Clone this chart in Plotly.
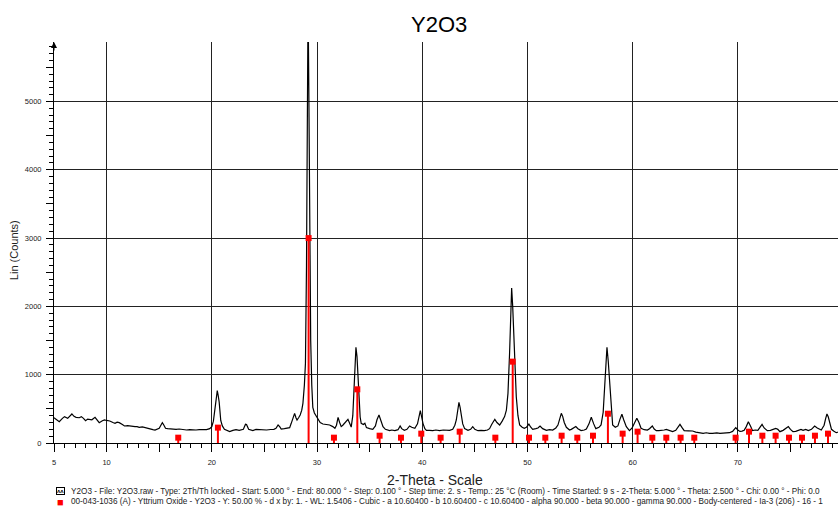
import plotly.graph_objects as go

# ---- measured pattern (2-Theta in degrees, Lin counts) ----
two_theta = [5.0, 5.3, 5.5, 5.8, 6.0, 6.3, 6.5, 6.7, 6.9, 7.1, 7.4, 7.6, 7.8, 8.0, 8.2, 8.4, 8.6, 8.9, 9.1, 9.3,
             9.6, 9.8, 10.0, 10.3, 10.6, 10.8, 11.0, 11.2, 11.5, 11.7, 12.0, 12.2, 12.5, 12.7, 12.9, 13.1, 13.4, 13.6,
             13.9, 14.1, 14.4, 14.6, 14.8, 15.0, 15.2, 15.3, 15.45, 15.6, 15.8, 16.0, 16.3, 16.6, 16.9, 17.2, 17.6,
             17.9, 18.2, 18.5, 18.8, 19.2, 19.5, 19.8, 20.0, 20.15, 20.3, 20.45, 20.52, 20.6, 20.7, 20.85, 21.0, 21.2,
             21.45, 21.7, 22.0, 22.3, 22.6, 22.8, 23.0, 23.2, 23.3, 23.5, 23.7, 23.9, 24.2, 24.5, 24.9, 25.2, 25.6,
             25.9, 26.1, 26.3, 26.45, 26.6, 26.9, 27.2, 27.4, 27.55, 27.75, 27.87, 28.0, 28.1, 28.25, 28.4, 28.55,
             28.66, 28.8, 28.9, 29.0, 29.08, 29.15, 29.22, 29.3, 29.4, 29.5, 29.6, 29.75, 29.87, 30.0, 30.1, 30.3,
             30.56, 30.9, 31.2, 31.5, 31.7, 31.85, 32.0, 32.15, 32.3, 32.45, 32.6, 32.8, 32.94, 33.1, 33.25, 33.4,
             33.5, 33.6, 33.7, 33.8, 33.9, 34.0, 34.1, 34.2, 34.4, 34.55, 34.7, 35.0, 35.3, 35.55, 35.7, 35.89, 36.05,
             36.27, 36.5, 36.9, 37.1, 37.4, 37.7, 37.9, 38.05, 38.3, 38.55, 38.8, 39.0, 39.3, 39.55, 39.7, 39.82,
             39.95, 40.07, 40.25, 40.4, 40.7, 41.0, 41.3, 41.65, 42.0, 42.3, 42.6, 42.9, 43.1, 43.24, 43.4, 43.49,
             43.6, 43.7, 43.85, 44.03, 44.35, 44.6, 44.8, 45.0, 45.3, 45.6, 45.9, 46.2, 46.4, 46.6, 46.9, 47.1, 47.36,
             47.6, 47.83, 48.0, 48.15, 48.3, 48.4, 48.5, 48.6, 48.72, 48.85, 48.94, 49.1, 49.26, 49.5, 49.7, 49.9,
             50.14, 50.3, 50.5, 50.8, 51.0, 51.2, 51.45, 51.8, 52.1, 52.4, 52.7, 52.9, 53.05, 53.22, 53.35, 53.5,
             53.7, 54.0, 54.17, 54.3, 54.6, 54.8, 55.1, 55.4, 55.6, 55.85, 56.07, 56.3, 56.5, 56.8, 57.0, 57.2, 57.34,
             57.45, 57.56, 57.68, 57.81, 57.95, 58.1, 58.35, 58.6, 58.8, 58.98, 59.15, 59.4, 59.7, 59.95, 60.2, 60.4,
             60.6, 60.8, 61.1, 61.4, 61.6, 61.87, 62.05, 62.25, 62.5, 62.7, 63.0, 63.2, 63.5, 63.8, 64.1, 64.3, 64.5,
             64.7, 64.9, 65.3, 65.7, 66.0, 66.4, 66.7, 67.0, 67.3, 67.6, 68.0, 68.3, 68.6, 68.9, 69.2, 69.5, 69.8,
             70.0, 70.2, 70.4, 70.6, 70.8, 71.0, 71.2, 71.4, 71.65, 71.9, 72.1, 72.3, 72.5, 72.8, 73.1, 73.35, 73.6,
             73.8, 74.0, 74.3, 74.55, 74.8, 75.0, 75.24, 75.5, 75.8, 76.0, 76.2, 76.45, 76.7, 77.0, 77.3, 77.55,
             77.93, 78.2, 78.35, 78.47, 78.6, 78.75, 78.9, 79.1, 79.35, 79.5]
counts = [370, 330, 312, 360, 386, 361, 390, 425, 390, 376, 370, 386, 360, 327, 350, 347, 340, 376, 340, 298,
          325, 337, 330, 322, 300, 288, 305, 298, 270, 249, 255, 249, 245, 239, 240, 229, 235, 225,
          210, 200, 195, 190, 205, 215, 270, 298, 260, 215, 210, 205, 200, 200, 205, 195, 190,
          195, 188, 190, 195, 200, 195, 210, 240, 320, 532, 740, 766, 700, 600, 330, 250, 200,
          180, 168, 185, 195, 185, 190, 200, 275, 270, 200, 190, 182, 200, 195, 198, 190, 198,
          200, 215, 264, 240, 205, 210, 215, 225, 288, 400, 434, 370, 337, 370, 410, 480,
          581, 850, 1166, 2600, 5000, 6500, 5200, 3200, 1500, 850, 520, 440, 410, 370, 347, 300,
          278, 270, 264, 240, 215, 260, 376, 300, 240, 260, 285, 330, 347, 290, 232, 400,
          678, 1100, 1400, 1264, 900, 532, 380, 288, 270, 290, 225, 210, 200, 250, 340, 410, 330,
          239, 200, 181, 190, 181, 195, 249, 210, 186, 200, 249, 230, 215, 280, 420, 473,
          380, 288, 210, 186, 185, 181, 190, 180, 190, 182, 185, 200, 260, 337, 520, 595,
          520, 434, 280, 210, 186, 200, 240, 200, 180, 185, 181, 190, 210, 270, 347, 300, 264,
          320, 386, 480, 727, 1300, 1900, 2270, 2000, 1606, 1000, 678, 400, 264, 230, 215, 230,
          278, 235, 200, 210, 220, 249, 210, 185, 195, 190, 220, 262, 350, 434, 390, 300,
          230, 190, 200, 210, 240, 210, 182, 190, 205, 280, 376, 280, 210, 230, 264, 450, 825,
          1250, 1401, 1200, 874, 500, 264, 230, 250, 350, 420, 340, 240, 181, 220, 300, 361,
          300, 215, 195, 190, 210, 249, 205, 181, 180, 181, 190, 200, 185, 166, 185, 230, 273,
          225, 181, 178, 176, 160, 150, 142, 150, 140, 142, 148, 140, 145, 150, 151, 170, 225,
          190, 170, 175, 186, 240, 312, 250, 181, 190, 186, 230, 273, 220, 181, 185, 200, 215,
          200, 166, 185, 210, 240, 200, 166, 170, 190, 200, 185, 200, 181, 200, 249, 220,
          190, 260, 360, 425, 380, 270, 200, 175, 151, 160]

# ---- reference pattern 00-043-1036 (Y: 50 %) ----
ref_theta = [16.81, 20.58, 29.2, 31.61, 33.83, 35.95, 37.98, 39.91, 41.75, 43.56, 46.95, 48.6, 50.15, 51.7,
             53.25, 54.74, 56.23, 57.65, 59.05, 60.47, 61.87, 63.2, 64.56, 65.86, 69.79, 71.06, 72.33, 73.59,
             74.86, 76.1, 77.33, 78.57]
ref_counts = [78, 225, 3000, 78, 786, 107, 78, 137, 78, 166, 78, 1191, 78, 78,
              107, 78, 107, 429, 137, 166, 78, 78, 78, 78, 78, 166, 107, 107,
              78, 78, 107, 137]

x_tick_vals = [5, 10, 15, 20, 25, 30, 35, 40, 45, 50, 55, 60, 65, 70, 75]
x_tick_text = ["5", "10", "", "20", "", "30", "", "40", "", "50", "", "60", "", "70", ""]
x_grid_vals = [10, 20, 30, 40, 50, 60, 70]
y_tick_vals = [0, 500, 1000, 1500, 2000, 2500, 3000, 3500, 4000, 4500, 5000, 5500]
y_tick_text = ["0", "", "1000", "", "2000", "", "3000", "", "4000", "", "5000", ""]
y_grid_vals = [1000, 2000, 3000, 4000, 5000]

X_RANGE = [5, 79.52]
Y_RANGE = [0, 5871]

title_text = "Y2O3"
y_title = "Lin (Counts)"
x_title = "2-Theta - Scale"
info_line1 = ("Y2O3 - File: Y2O3.raw - Type: 2Th/Th locked - Start: 5.000 ° - End: 80.000 ° - Step: 0.100 ° - "
              "Step time: 2. s - Temp.: 25 °C (Room) - Time Started: 9 s - 2-Theta: 5.000 ° - Theta: 2.500 ° - "
              "Chi: 0.00 ° - Phi: 0.0")
info_line2 = ("00-043-1036 (A) - Yttrium Oxide - Y2O3 - Y: 50.00 % - d x by: 1. - WL: 1.5406 - Cubic - "
              "a 10.60400 - b 10.60400 - c 10.60400 - alpha 90.000 - beta 90.000 - gamma 90.000 - "
              "Body-centered - Ia-3 (206) - 16 - 1")

FONT = "Arial, Liberation Sans, sans-serif"

# stick segments built from the reference arrays
stick_x, stick_y = [], []
for t, c in zip(ref_theta, ref_counts):
    stick_x += [t, t, None]
    stick_y += [0, c, None]

fig = go.Figure()
fig.add_trace(go.Scatter(x=two_theta, y=counts, mode="lines",
                         line=dict(color="black", width=1.2), hoverinfo="skip", showlegend=False))
fig.add_trace(go.Scatter(x=stick_x, y=stick_y, mode="lines", xaxis="x2", yaxis="y2",
                         line=dict(color="#ff0000", width=2), hoverinfo="skip", showlegend=False))
fig.add_trace(go.Scatter(x=ref_theta, y=ref_counts, mode="markers", xaxis="x2", yaxis="y2",
                         marker=dict(symbol="square", size=6, color="#ff0000"),
                         hoverinfo="skip", showlegend=False))

fig.update_layout(
    width=838, height=508,
    margin=dict(l=54, r=0, t=42, b=65),
    paper_bgcolor="white", plot_bgcolor="white",
    font=dict(family=FONT, color="#222"),
    title=dict(text=title_text, x=0.524, xref="container", y=1 - 24 / 508, yref="container",
               xanchor="center", yanchor="middle", font=dict(size=22, color="black", family=FONT)),
    xaxis=dict(range=X_RANGE, tickmode="array", tickvals=x_tick_vals, ticktext=x_tick_text,
               ticks="outside", ticklen=8, tickwidth=1, tickcolor="black",
               showline=True, linecolor="black", linewidth=1, showgrid=False, zeroline=False,
               minor=dict(tick0=5, dtick=1, ticks="outside", ticklen=4, tickcolor="black", showgrid=False),
               tickfont=dict(size=7.5, color="#222"), ticklabelstandoff=4),
    yaxis=dict(range=Y_RANGE, tickmode="array", tickvals=y_tick_vals, ticktext=y_tick_text,
               ticks="outside", ticklen=7, tickwidth=1, tickcolor="black",
               showline=True, linecolor="black", linewidth=1, showgrid=False, zeroline=False,
               minor=dict(tick0=0, dtick=100, ticks="outside", ticklen=4, tickcolor="black", showgrid=False),
               tickfont=dict(size=7.5, color="#222"), ticklabelstandoff=3),
    xaxis2=dict(range=X_RANGE, overlaying="x", anchor="y2", side="bottom", tickmode="array",
                tickvals=x_grid_vals, showgrid=True, gridcolor="#222", gridwidth=1,
                ticks="", showticklabels=False, showline=False, zeroline=False),
    yaxis2=dict(range=Y_RANGE, overlaying="y", anchor="x2", side="left", tickmode="array",
                tickvals=y_grid_vals, showgrid=True, gridcolor="#222", gridwidth=1,
                ticks="", showticklabels=False, showline=False, zeroline=False),
)

annotations = [
    dict(x=0, y=1, xref="paper", yref="paper", text="", showarrow=True, ax=0, ay=10,
         arrowhead=2, arrowsize=1.2, arrowwidth=1, arrowcolor="black"),
    dict(x=-0.051, y=0.481, xref="paper", yref="paper", text=y_title, textangle=-90, showarrow=False,
         xanchor="center", yanchor="middle", font=dict(size=11, color="#222")),
    dict(x=0.486, y=-0.0923, xref="paper", yref="paper", text=x_title, showarrow=False,
         xanchor="center", yanchor="middle", font=dict(size=14, color="#222")),
    dict(x=0.0025, y=-0.120, xref="paper", yref="paper", text="<b>ʌʌ</b>", showarrow=False,
         xanchor="left", yanchor="middle", bordercolor="black", borderwidth=1, borderpad=0,
         font=dict(size=6, color="black")),
    dict(x=0.0015, y=-0.147, xref="paper", yref="paper", text="■", showarrow=False,
         xanchor="left", yanchor="middle", font=dict(size=11, color="#ff0000")),
    dict(x=0.019, y=-0.121, xref="paper", yref="paper", text=info_line1, showarrow=False,
         xanchor="left", yanchor="middle", font=dict(size=8.2, color="#222")),
    dict(x=0.019, y=-0.147, xref="paper", yref="paper", text=info_line2, showarrow=False,
         xanchor="left", yanchor="middle", font=dict(size=8.2, color="#222")),
]
fig.update_layout(annotations=annotations)

fig.write_html("out.html", config={"displayModeBar": False},
               post_script="document.body.style.margin='0';document.body.style.overflow='hidden';")
